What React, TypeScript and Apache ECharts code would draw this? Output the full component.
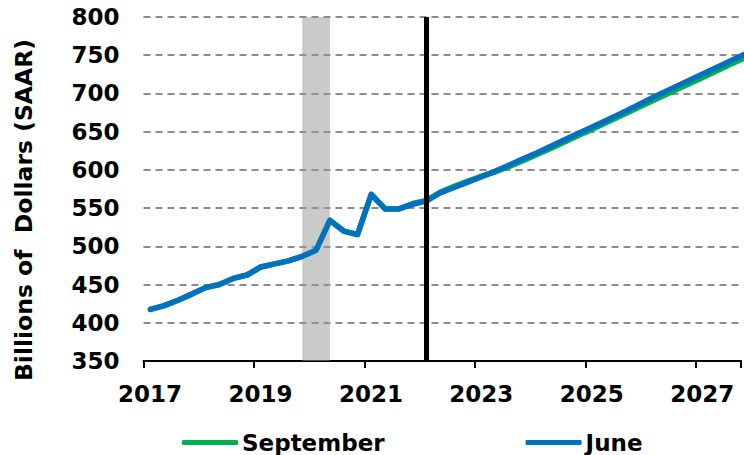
import React, { useEffect, useRef } from "react";
import * as echarts from "echarts";

const quarters = [
  "2017Q1", "2017Q2", "2017Q3", "2017Q4",
  "2018Q1", "2018Q2", "2018Q3", "2018Q4",
  "2019Q1", "2019Q2", "2019Q3", "2019Q4",
  "2020Q1", "2020Q2", "2020Q3", "2020Q4",
  "2021Q1", "2021Q2", "2021Q3", "2021Q4",
  "2022Q1", "2022Q2", "2022Q3", "2022Q4",
  "2023Q1", "2023Q2", "2023Q3", "2023Q4",
  "2024Q1", "2024Q2", "2024Q3", "2024Q4",
  "2025Q1", "2025Q2", "2025Q3", "2025Q4",
  "2026Q1", "2026Q2", "2026Q3", "2026Q4",
  "2027Q1", "2027Q2", "2027Q3", "2027Q4",
  "2028Q1",
];

const september = [
  417.5, 422.5, 429.5, 437.5, 446, 450, 458, 462.5, 473, 477, 481, 487,
  495, 534, 520, 515.5, 568, 549, 549, 556, 560, 571, 578.5, 585.5,
  592, 597.5, 604.5, 612, 620, 628, 636.5, 645, 653, 661.5, 670, 678.5,
  687, 695.5, 704, 712.5, 721, 729.5, 738, 746, 754,
];

const june = [
  417.5, 422.5, 429.5, 437.5, 446, 450, 458, 462.5, 473, 477, 481, 487,
  495, 534, 520, 515.5, 568, 549, 549, 555, 559.5, 570, 577, 584,
  591, 598.5, 606.5, 614.5, 622.5, 631, 639.5, 648, 656, 664.5, 673, 682,
  691, 700, 708.5, 717, 725.5, 734, 742.5, 751, 759.5,
];

const recessionStart = "2019Q4";
const recessionEnd = "2020Q2";
const lastActual = "2022Q1";

const yTicks = { min: 350, max: 800, interval: 50 };
const xTicks = { min: 2017, max: 2027.82, interval: 2 };

const toX = (q: string) => {
  const year = parseInt(q.slice(0, 4), 10);
  const qn = parseInt(q.slice(5), 10);
  return year + (qn - 0.5) / 4;
};

const FONT = "DejaVu Sans";

export default function App() {
  const ref = useRef<HTMLDivElement>(null);

  useEffect(() => {
    if (!ref.current) return;
    const chart = echarts.init(ref.current, null, { renderer: "svg" });
    const sepData = quarters.map((q, i) => [toX(q), september[i]]);
    const junData = quarters.map((q, i) => [toX(q), june[i]]);

    chart.setOption({
      animation: false,
      backgroundColor: "#ffffff",
      grid: { left: 143.5, right: 0, top: 17, bottom: 94, containLabel: false },
      xAxis: {
        type: "value",
        min: xTicks.min,
        max: xTicks.max,
        interval: xTicks.interval,
        splitLine: { show: false },
        axisLine: { show: true, lineStyle: { color: "#000", width: 2 } },
        axisTick: { show: true, length: 7, lineStyle: { color: "#000", width: 2 } },
        axisLabel: {
          margin: 21,
          color: "#000",
          fontFamily: FONT,
          fontWeight: "bold",
          fontSize: 23,
          padding: [0, 0, 0, 13],
          formatter: (v: number) => (Number.isInteger(v) ? String(v) : ""),
        },
      },
      yAxis: {
        type: "value",
        min: yTicks.min,
        max: yTicks.max,
        interval: yTicks.interval,
        axisLine: { show: false },
        axisTick: { show: false },
        axisLabel: {
          margin: 24,
          color: "#000",
          fontFamily: FONT,
          fontWeight: "bold",
          fontSize: 23,
        },
        splitLine: {
          show: true,
          lineStyle: { color: "#8c8c8c", width: 2, type: [7, 5] },
        },
      },
      legend: {
        data: ["September", "June"],
        left: 177,
        top: 426,
        icon: "roundRect",
        itemWidth: 56,
        itemHeight: 5,
        itemGap: 141,
        textStyle: {
          color: "#000",
          fontFamily: FONT,
          fontWeight: "bold",
          fontSize: 23,
          padding: [0, 0, 0, -1],
        },
      },
      graphic: [
        {
          type: "text",
          x: 24,
          y: 210,
          rotation: Math.PI / 2,
          style: {
            text: "Billions of  Dollars (SAAR)",
            fontFamily: FONT,
            fontWeight: "bold",
            fontSize: 23.5,
            fill: "#000",
            align: "center",
            verticalAlign: "middle",
          },
        },
      ],
      series: [
        {
          name: "September",
          type: "line",
          data: sepData,
          showSymbol: false,
          symbol: "none",
          lineStyle: { color: "#00B050", width: 5.5, cap: "round", join: "round" },
          itemStyle: { color: "#00B050" },
          z: 3,
          markArea: {
            silent: true,
            itemStyle: { color: "rgba(150,150,150,0.5)" },
            data: [[{ xAxis: toX(recessionStart) }, { xAxis: toX(recessionEnd) }]],
          },
        },
        {
          name: "June",
          type: "line",
          data: junData,
          showSymbol: false,
          symbol: "none",
          lineStyle: { color: "#0070C0", width: 5.5, cap: "round", join: "round" },
          itemStyle: { color: "#0070C0" },
          z: 4,
          markLine: {
            silent: true,
            symbol: ["none", "none"],
            label: { show: false },
            lineStyle: { color: "#000", width: 5, type: "solid" },
            data: [[{ coord: [toX(lastActual), yTicks.max] }, { coord: [toX(lastActual), yTicks.min] }]],
          },
        },
      ],
    });
    return () => chart.dispose();
  }, []);

  return (
    <div
      ref={ref}
      style={{ position: "fixed", left: 0, top: 0, width: 744, height: 455 }}
    />
  );
}
